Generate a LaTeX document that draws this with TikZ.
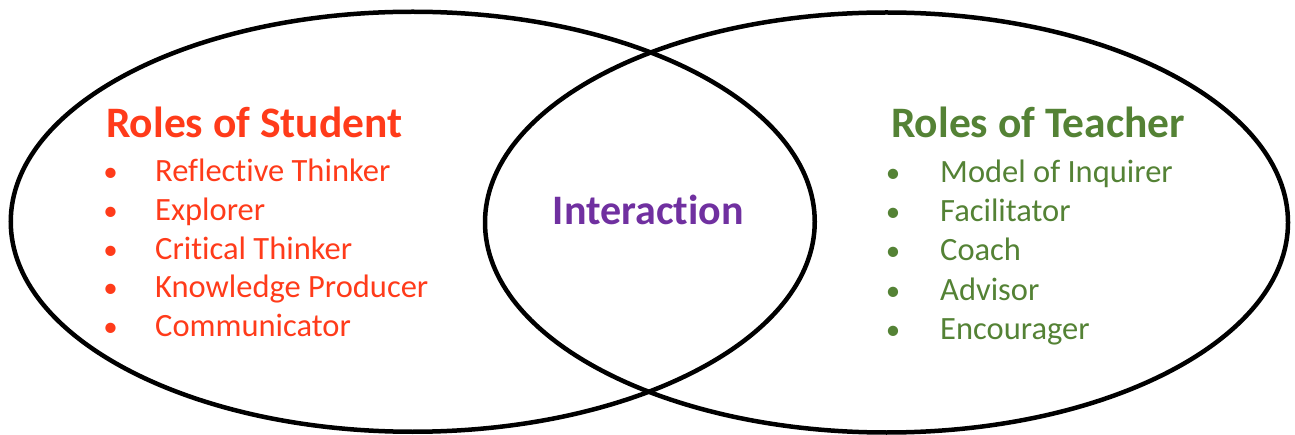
\documentclass[tikz,border=0pt]{standalone}
\usepackage{fontspec}
\setmainfont[Ligatures=NoCommon]{Carlito}
\definecolor{stud}{HTML}{FF3B1A}
\definecolor{teach}{HTML}{548235}
\definecolor{inter}{HTML}{7030A0}
\begin{document}
\begin{tikzpicture}[x=1pt,y=-1pt,
  ring/.style={draw=black,line width=4.5pt},
  title/.style={anchor=base west,inner sep=0pt,font=\fontsize{43.5}{47}\selectfont\bfseries},
  item/.style={anchor=base west,inner sep=0pt,font=\fontsize{32.5}{36}\selectfont},
  bul/.style={anchor=base,inner sep=0pt,font=\fontsize{29}{33}\selectfont}]
\useasboundingbox (0,0) rectangle (1295,435);
\draw[ring] (412.75,221.75) ellipse [x radius=402, y radius=210];
\draw[ring] (886.5,222.5) ellipse [x radius=401.5, y radius=210];
% student
\node[title,text=stud] (st) at (106,138) {Roles of Student};
\foreach \t [count=\i] in {Reflective Thinker,Explorer,Critical Thinker,Knowledge Producer,Communicator}{
  \node[bul,text=stud] (sb\i) at (110.7,181.5+38.8*\i-38.8) {•};
  \node[item,text=stud] (si\i) at (155,181.5+38.8*\i-38.8) {\t};
}
% teacher
\node[title,text=teach] (tt) at (891,138) {Roles of Teacher};
\foreach \t [count=\i] in {Model of Inquirer,Facilitator,Coach,Advisor,Encourager}{
  \node[bul,text=teach] (tb\i) at (893,182.5+39.2*\i-39.2) {•};
  \node[item,text=teach] (ti\i) at (940,182.5+39.2*\i-39.2) {\t};
}
\node[anchor=base west,inner sep=0pt,font=\fontsize{42}{46}\selectfont\bfseries,text=inter] (ia) at (552.7,224.5) {Interaction};
\end{tikzpicture}
\end{document}
